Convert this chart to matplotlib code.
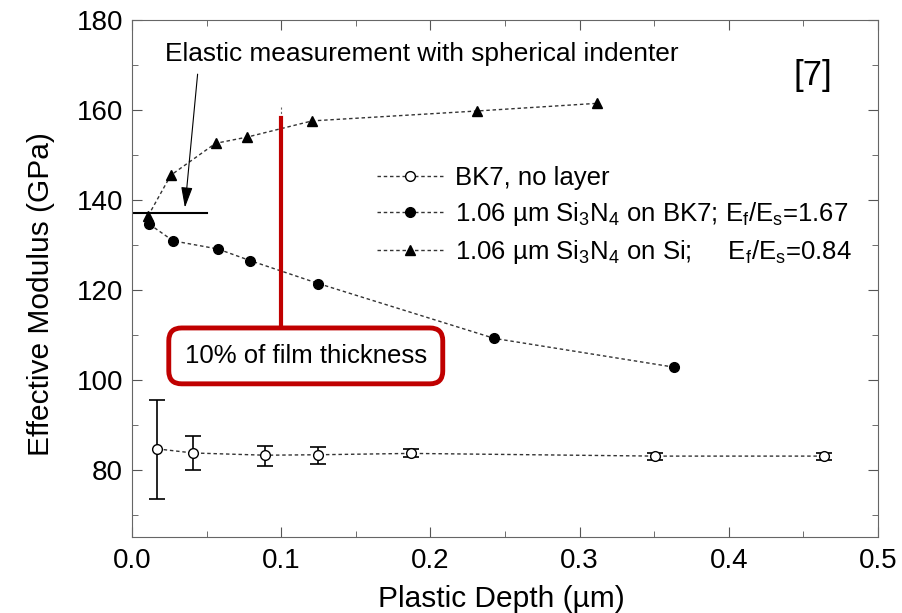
import matplotlib.pyplot as plt
from matplotlib.ticker import MultipleLocator

plt.rcParams['font.family'] = ['Liberation Sans', 'DejaVu Sans']
plt.rcParams['mathtext.fontset'] = 'custom'
plt.rcParams['mathtext.rm'] = 'Liberation Sans'
plt.rcParams['mathtext.it'] = 'Liberation Sans'

# BK7, no layer (with error bars)
bk7_x = [0.0171, 0.0408, 0.089, 0.1247, 0.187, 0.3504, 0.4639]
bk7_y = [84.6, 83.7, 83.2, 83.3, 83.6, 83.0, 83.0]
bk7_lo = [73.4, 79.8, 80.9, 81.3, 82.7, 82.2, 82.2]
bk7_hi = [95.4, 87.5, 85.3, 85.0, 84.6, 83.7, 83.6]

# 1.06 um Si3N4 on BK7
bk7f_x = [0.0117, 0.0276, 0.0575, 0.0793, 0.125, 0.2428, 0.3632]
bk7f_y = [134.6, 130.9, 129.1, 126.5, 121.4, 109.2, 102.8]

# 1.06 um Si3N4 on Si
si_x = [0.0109, 0.026, 0.056, 0.0773, 0.1208, 0.2312, 0.3116]
si_y = [136.5, 145.5, 152.6, 154.0, 157.6, 159.8, 161.5]

elastic_E = 137.0
film_10pct = 0.1

fig = plt.figure(figsize=(9.02, 6.13), dpi=100)
ax = fig.add_axes([0.1463, 0.124, 0.827, 0.843])

ls = (0, (2.5, 2))
lc = '#333333'

yerr = [[y - lo for y, lo in zip(bk7_y, bk7_lo)], [hi - y for y, hi in zip(bk7_y, bk7_hi)]]
ax.errorbar(bk7_x, bk7_y, yerr=yerr, fmt='none', ecolor='black', elinewidth=1.2, capsize=6, capthick=1.2, zorder=2)
ax.plot(bk7_x, bk7_y, linestyle=ls, color=lc, lw=1, marker='o', ms=7, mfc='white', mec='black', mew=1,
        label='BK7, no layer', zorder=3)
ax.plot(bk7f_x, bk7f_y, linestyle=ls, color=lc, lw=1, marker='o', ms=7, mfc='black', mec='black',
        label=r'1.06 µm Si$_3$N$_4$ on BK7; E$_f$/E$_s$=1.67', zorder=3)
ax.plot(si_x, si_y, linestyle=ls, color=lc, lw=1, marker='^', ms=7.5, mfc='black', mec='black',
        label=r'1.06 µm Si$_3$N$_4$ on Si;     E$_f$/E$_s$=0.84', zorder=3)

# elastic measurement line and annotation
ax.plot([0, 0.0505], [elastic_E, elastic_E], color='black', lw=1.5, zorder=2)
ax.text(0.0222, 172.4, 'Elastic measurement with spherical indenter', fontsize=18.9, ha='left', va='center')
ax.annotate('', xy=(0.0355, 138.3), xytext=(0.0440, 168.0),
            arrowprops=dict(arrowstyle='-|>,head_length=0.9,head_width=0.25', color='black', lw=0.8,
                            mutation_scale=14, shrinkA=0, shrinkB=0))

# 10% of film thickness marker
ax.plot([film_10pct, film_10pct], [158.3, 160.6], linestyle=(0, (2, 2)), color='#666666', lw=0.8)
ax.plot([film_10pct, film_10pct], [110.0, 158.3], color='#c00000', lw=3, zorder=4)
ax.text(0.1165, 105.3, '10% of film thickness', fontsize=18.5, ha='center', va='center', zorder=6,
        bbox=dict(boxstyle='round,pad=0.62,rounding_size=0.5', fc='white', ec='#c00000', lw=3.5))

ax.text(0.4564, 167.6, '[7]', fontsize=25, ha='center', va='center')

ax.legend(loc='center left', bbox_to_anchor=(0.328, 0.621), frameon=False, fontsize=18.5,
          handlelength=2.6, handletextpad=0.45, labelspacing=0.4, borderaxespad=0, borderpad=0)

ax.set_xlim(0, 0.5)
ax.set_ylim(65, 180)
ax.xaxis.set_major_locator(MultipleLocator(0.1))
ax.xaxis.set_minor_locator(MultipleLocator(0.05))
ax.yaxis.set_major_locator(MultipleLocator(20))
ax.yaxis.set_minor_locator(MultipleLocator(10))
ax.set_xticks([0.0, 0.1, 0.2, 0.3, 0.4, 0.5])
ax.set_xticklabels(['0.0', '0.1', '0.2', '0.3', '0.4', '0.5'])
ax.tick_params(which='both', direction='in', top=True, right=True, colors='#555555', labelcolor='black')
ax.tick_params(which='major', length=7, labelsize=20)
ax.tick_params(axis='x', which='major', pad=8)
ax.tick_params(axis='y', which='major', pad=6.5)
ax.tick_params(which='minor', length=4)
for s in ax.spines.values():
    s.set_color('#666666')

ax.set_xlabel('Plastic Depth (µm)', fontsize=21.5)
ax.set_ylabel('Effective Modulus (GPa)', fontsize=21.5)
ax.xaxis.set_label_coords(0.495, -0.092)
ax.yaxis.set_label_coords(-0.103, 0.47)

plt.savefig('out.png', dpi=100)
